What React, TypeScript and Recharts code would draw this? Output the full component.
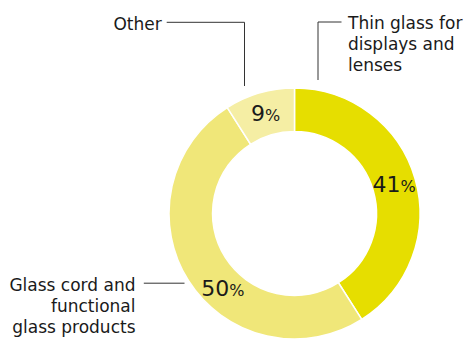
import { Cell, Pie, PieChart } from 'recharts'

const segments = ['Thin glass for displays and lenses', 'Glass cord and functional glass products', 'Other']
const shares = [41, 50, 9]
const labelLines = [
  ['Thin glass for', 'displays and', 'lenses'],
  ['Glass cord and', 'functional', 'glass products'],
  ['Other'],
]

const colors = ['#e6de00', '#f0e779', '#f5eea4']
const ink = '#1a1a1a'
const font = '"DejaVu Sans", Verdana, sans-serif'

// leader lines and external text, relative to the pie centre
const callouts = [
  { path: [[23.5, -133.5], [23.5, -191.5], [47, -191.5]], tx: 53.5, ty: -184.5, anchor: 'start', pctShift: 0 },
  { path: [[-150.7, 69.7], [-110, 69.7]], tx: -159, ty: 77.3, anchor: 'end', pctShift: 14 },
  { path: [[-127.8, -191.2], [-50, -191.2], [-50, -127.5]], tx: -132.8, ty: -183.5, anchor: 'end', pctShift: 0 },
]

const data = segments.map((name, i) => ({ name, value: shares[i] }))

const RADIAN = Math.PI / 180

function renderLabel(props: any) {
  const { cx, cy, midAngle, innerRadius, outerRadius, index, value } = props
  const c = callouts[index]
  const r = (innerRadius + outerRadius) / 2
  const a = (midAngle + c.pctShift) * RADIAN
  const x = cx + r * Math.cos(a)
  const y = cy - r * Math.sin(a)
  const pts = c.path.map(([dx, dy]) => `${cx + dx},${cy + dy}`).join(' ')
  return (
    <g key={`lbl-${index}`}>
      <text x={x} y={y + 7} textAnchor="middle" fill={ink} fontFamily={font}>
        <tspan fontSize={22}>{value}</tspan>
        <tspan fontSize={16}>%</tspan>
      </text>
      <polyline points={pts} fill="none" stroke="#333" strokeWidth={1} />
      <text x={cx + c.tx} y={cy + c.ty} textAnchor={c.anchor as any} fill={ink} fontFamily={font} fontSize={17}>
        {labelLines[index].map((line, j) => (
          <tspan key={j} x={cx + c.tx} dy={j === 0 ? 0 : 21}>{line}</tspan>
        ))}
      </text>
    </g>
  )
}

export default function App() {
  return (
    <div style={{ position: 'absolute', left: 0, top: 0, background: '#fff' }}>
      <PieChart width={469} height={340} margin={{ top: 0, right: 0, bottom: 0, left: 0 }}>
        <Pie
          data={data}
          dataKey="value"
          cx={294.5}
          cy={213.5}
          innerRadius={82}
          outerRadius={125.5}
          startAngle={90}
          endAngle={-270}
          stroke="#fff"
          strokeWidth={1.5}
          label={renderLabel}
          labelLine={false}
          isAnimationActive={false}
        >
          {data.map((d, i) => (
            <Cell key={d.name} fill={colors[i]} />
          ))}
        </Pie>
      </PieChart>
    </div>
  )
}
